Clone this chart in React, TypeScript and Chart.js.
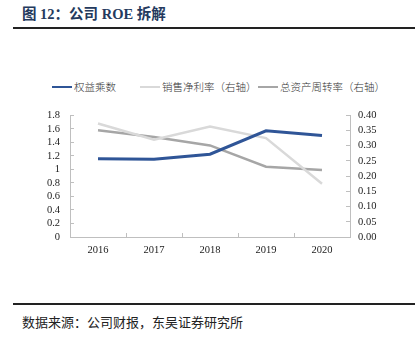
import React, { useEffect, useRef } from "react";
import { Chart, registerables } from "chart.js";

Chart.register(...registerables);

const categories = ["2016", "2017", "2018", "2019", "2020"];
const equityMultiplier = [1.157, 1.149, 1.224, 1.571, 1.5];
const netMargin = [0.373, 0.32, 0.363, 0.325, 0.175];
const assetTurnover = [0.351, 0.329, 0.301, 0.231, 0.22];
const seriesNames = ["权益乘数", "销售净利率（右轴）", "总资产周转率（右轴）"];
const seriesColors = ["#2f5597", "#d9d9d9", "#a6a6a6"];

const tickFont = { family: "'Liberation Serif', 'Noto Sans CJK SC', serif", size: 10.5 };
const axisColor = "#bfbfbf";

export default function App() {
  const ref = useRef<HTMLCanvasElement | null>(null);

  useEffect(() => {
    if (!ref.current) return;
    const chart = new Chart(ref.current, {
      type: "line",
      data: {
        labels: categories,
        datasets: [
          {
            label: seriesNames[0],
            data: equityMultiplier,
            borderColor: seriesColors[0],
            backgroundColor: seriesColors[0],
            borderWidth: 3,
            pointRadius: 0,
            tension: 0,
            yAxisID: "y",
          },
          {
            label: seriesNames[1],
            data: netMargin,
            borderColor: seriesColors[1],
            backgroundColor: seriesColors[1],
            borderWidth: 2.5,
            pointRadius: 0,
            tension: 0,
            yAxisID: "y1",
          },
          {
            label: seriesNames[2],
            data: assetTurnover,
            borderColor: seriesColors[2],
            backgroundColor: seriesColors[2],
            borderWidth: 2.5,
            pointRadius: 0,
            tension: 0,
            yAxisID: "y1",
          },
        ],
      },
      options: {
        animation: false,
        responsive: false,
        maintainAspectRatio: false,
        layout: { padding: { top: 16, left: 0, right: 0, bottom: 0 } },
        plugins: { legend: { display: false }, tooltip: { enabled: false } },
        scales: {
          x: {
            offset: true,
            grid: { drawOnChartArea: false, tickLength: -4, color: axisColor, offset: true },
            border: { color: axisColor },
            ticks: { font: tickFont, color: "#222", padding: 11, maxRotation: 0, autoSkip: false },
            afterFit: (s: any) => {
              s.height = 33;
            },
          },
          y: {
            position: "left",
            min: 0,
            max: 1.8,
            grid: { drawOnChartArea: false, tickLength: -4, color: axisColor },
            border: { color: axisColor },
            ticks: {
              stepSize: 0.2,
              autoSkip: false,
              font: tickFont,
              color: "#222",
              padding: 14,
              callback: (v: any) => String(Math.round(Number(v) * 10) / 10),
            },
            afterFit: (s: any) => {
              s.width = 70;
            },
          },
          y1: {
            position: "right",
            min: 0,
            max: 0.4,
            grid: { drawOnChartArea: false, tickLength: -4, color: axisColor },
            border: { color: axisColor },
            ticks: {
              stepSize: 0.05,
              autoSkip: false,
              font: tickFont,
              color: "#222",
              padding: 12,
              callback: (v: any) => Number(v).toFixed(2),
            },
            afterFit: (s: any) => {
              s.width = 65;
            },
          },
        },
      },
    });
    return () => chart.destroy();
  }, []);

  const legendItems = [
    { x: 52, tx: 74 },
    { x: 140, tx: 162 },
    { x: 258, tx: 280 },
  ];

  return (
    <div
      style={{
        position: "absolute",
        left: 0,
        top: 0,
        width: 415,
        height: 337,
        background: "#fff",
        overflow: "hidden",
      }}
    >
      <div
        style={{
          position: "absolute",
          left: 22,
          top: 4,
          fontFamily: "'Liberation Serif', 'Noto Sans CJK SC', serif",
          fontWeight: "bold",
          fontSize: 14.5,
          color: "#243a5e",
          whiteSpace: "nowrap",
          lineHeight: "20px",
        }}
      >
        图 12：公司 ROE 拆解
      </div>
      <div
        style={{ position: "absolute", left: 13, top: 27, width: 402, height: 2, background: "#222" }}
      />
      {legendItems.map((it, i) => (
        <React.Fragment key={i}>
          <div
            style={{
              position: "absolute",
              left: it.x,
              top: i === 0 ? 85.5 : 86,
              width: 20,
              height: i === 0 ? 2.5 : 1.5,
              background: seriesColors[i],
            }}
          />
          <div
            style={{
              position: "absolute",
              left: it.tx,
              top: 79,
              fontFamily: "'Noto Sans CJK SC', sans-serif",
              fontSize: 10.5,
              fontWeight: 300,
              color: "#333",
              whiteSpace: "nowrap",
              lineHeight: "15px",
            }}
          >
            {seriesNames[i]}
          </div>
        </React.Fragment>
      ))}
      <div style={{ position: "absolute", left: 0, top: 95, width: 415, height: 175 }}>
        <canvas ref={ref} width={415} height={175} style={{ width: 415, height: 175, display: "block" }} />
      </div>
      <div
        style={{ position: "absolute", left: 13, top: 303, width: 402, height: 2, background: "#222" }}
      />
      <div
        style={{
          position: "absolute",
          left: 22,
          top: 313,
          fontFamily: "'Noto Sans CJK SC', sans-serif",
          fontSize: 13,
          color: "#222",
          whiteSpace: "nowrap",
          lineHeight: "18px",
        }}
      >
        数据来源：公司财报，东吴证券研究所
      </div>
    </div>
  );
}
